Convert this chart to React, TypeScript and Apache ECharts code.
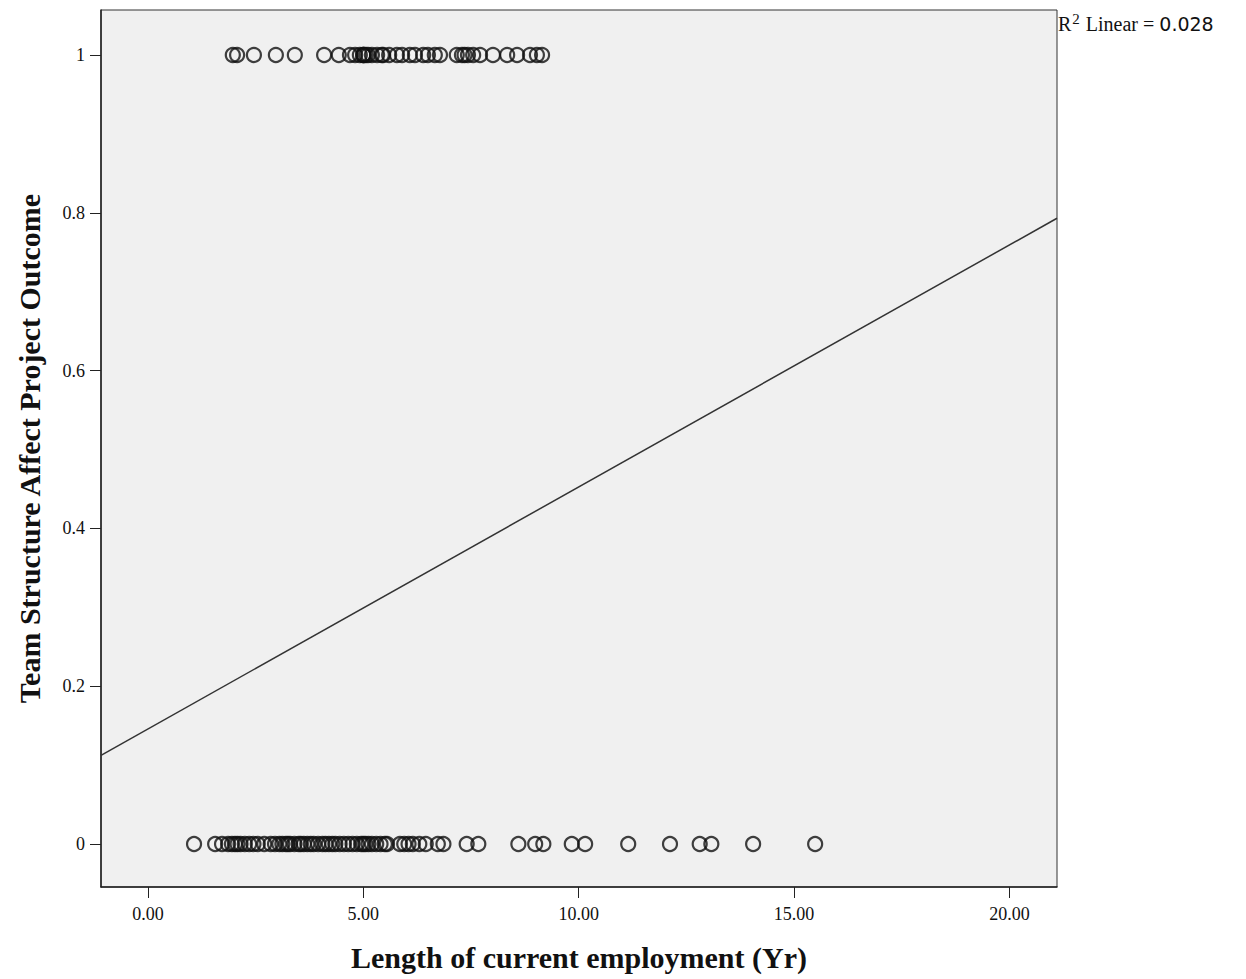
import React, { useEffect, useRef } from "react";
import * as echarts from "echarts";

const xTickValues = [0, 5, 10, 15, 20];
const yTickValues = [0, 0.2, 0.4, 0.6, 0.8, 1];

const outcomeYes = [
  1.97, 2.07, 2.46, 2.97, 3.41, 4.09, 4.43, 4.69, 4.81, 4.92, 5.0, 5.0, 5.01, 5.06, 5.11,
  5.2, 5.32, 5.43, 5.46, 5.6, 5.78, 5.9, 6.08, 6.2, 6.39, 6.5, 6.66, 6.78, 7.17, 7.29, 7.35,
  7.43, 7.55, 7.71, 8.01, 8.34, 8.57, 8.87, 9.03, 9.15,
];

const outcomeNo = [
  1.07, 1.56, 1.72, 1.86, 1.95, 2.02, 2.08, 2.15, 2.25, 2.35, 2.45, 2.55, 2.7, 2.85, 2.95,
  3.05, 3.12, 3.2, 3.25, 3.3, 3.4, 3.5, 3.55, 3.62, 3.7, 3.78, 3.85, 3.95, 4.05, 4.12, 4.2,
  4.28, 4.35, 4.45, 4.55, 4.65, 4.75, 4.85, 4.95, 5.0, 5.05, 5.12, 5.2, 5.3, 5.4, 5.5, 5.55,
  5.85, 5.95, 6.05, 6.15, 6.3, 6.45, 6.73, 6.86, 7.4, 7.67, 8.6, 8.99, 9.18, 9.84, 10.15,
  11.15, 12.12, 12.81, 13.08, 14.05, 15.49,
];

const fitIntercept = 0.1458;
const fitSlope = 0.03067;
const rSquared = "0.028";

const X_MIN = -1.09;
const X_MAX = 21.105;
const Y_MIN = -0.0545;
const Y_MAX = 1.057;

export default function App() {
  const ref = useRef<HTMLDivElement>(null);

  useEffect(() => {
    if (!ref.current) return;
    const chart = echarts.init(ref.current, null, { renderer: "svg" });
    const serif = "'Liberation Serif', 'DejaVu Serif', serif";
    const scatterData = [
      ...outcomeYes.map((x) => [x, 1]),
      ...outcomeNo.map((x) => [x, 0]),
    ];
    const fitData = [
      [X_MIN, fitIntercept + fitSlope * X_MIN],
      [X_MAX, fitIntercept + fitSlope * X_MAX],
    ];
    chart.setOption({
      animation: false,
      backgroundColor: "#ffffff",
      grid: {
        left: 101,
        right: 189,
        top: 10,
        bottom: 92,
        show: true,
        backgroundColor: "#F0F0F0",
        borderColor: "#333333",
        borderWidth: 1,
      },
      xAxis: {
        type: "value",
        min: X_MIN,
        max: X_MAX,
        name: "Length of current employment (Yr)",
        nameLocation: "middle",
        nameGap: 55,
        nameTextStyle: { fontFamily: serif, fontWeight: "bold", fontSize: 30, color: "#111" },
        splitLine: { show: false },
        axisLine: { show: true, onZero: false, lineStyle: { color: "#222", width: 1.5 } },
        axisTick: { show: true, length: 11, customValues: xTickValues, lineStyle: { color: "#222" } },
        axisLabel: {
          customValues: xTickValues,
          formatter: (v: number) => v.toFixed(2),
          fontFamily: serif,
          fontSize: 18,
          color: "#111",
          margin: 18,
        },
      },
      yAxis: {
        type: "value",
        min: Y_MIN,
        max: Y_MAX,
        name: "Team Structure Affect Project Outcome",
        nameLocation: "middle",
        nameGap: 57,
        nameTextStyle: { fontFamily: serif, fontWeight: "bold", fontSize: 30, color: "#111" },
        splitLine: { show: false },
        axisLine: { show: true, onZero: false, lineStyle: { color: "#222", width: 1.5 } },
        axisTick: { show: true, length: 11, customValues: yTickValues, lineStyle: { color: "#222" } },
        axisLabel: {
          customValues: yTickValues,
          formatter: (v: number) => (v === 0 || v === 1 ? String(v) : v.toFixed(1)),
          fontFamily: serif,
          fontSize: 18,
          color: "#111",
          margin: 16,
        },
      },
      graphic: [
        {
          type: "text",
          left: 1058,
          top: 11,
          style: {
            text: "{r|R}{s|2}{r| Linear = }{n|" + rSquared + "}",
            rich: {
              r: { fontFamily: serif, fontSize: 20, fill: "#111" },
              s: { fontFamily: serif, fontSize: 15, fill: "#111", verticalAlign: "top", padding: [0, 1, 10, 1] },
              n: { fontFamily: "'DejaVu Sans', sans-serif", fontSize: 19, fill: "#111" },
            },
          },
        },
      ],
      series: [
        {
          type: "scatter",
          data: scatterData,
          symbol: "circle",
          symbolSize: 14,
          itemStyle: { color: "transparent", borderColor: "#111", borderWidth: 2.2 },
          z: 3,
        },
        {
          type: "line",
          data: fitData,
          symbol: "none",
          lineStyle: { color: "#333", width: 1.5 },
          z: 2,
        },
      ],
    });
    return () => chart.dispose();
  }, []);

  return (
    <div
      ref={ref}
      style={{ position: "absolute", left: 0, top: 0, width: 1246, height: 979 }}
    />
  );
}
